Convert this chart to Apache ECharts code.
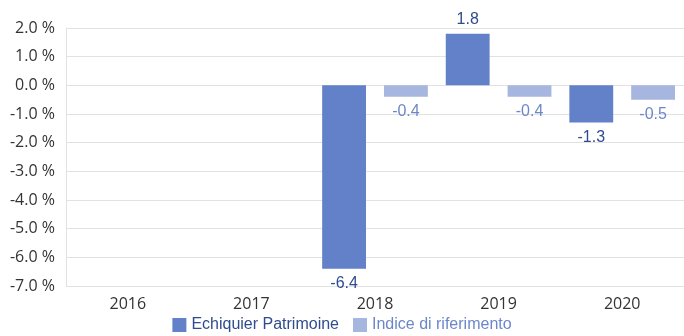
<!DOCTYPE html>
<html>
<head>
<meta charset="utf-8">
<script src="https://cdn.jsdelivr.net/npm/echarts@6/dist/echarts.min.js"></script>
<style>
  html, body { margin: 0; padding: 0; background: #fff; }
  #chart { width: 684px; height: 336px; }
</style>
</head>
<body>
<div id="chart"></div>
<script>
// Annual performance, fund vs benchmark (%)
const years = ['2016', '2017', '2018', '2019', '2020'];
const fundValues = [null, null, -6.4, 1.8, -1.3];
const benchmarkValues = [null, null, -0.4, -0.4, -0.5];
const seriesNames = ['Echiquier Patrimoine', 'Indice di riferimento'];

const fundColor = '#6281C9';
const benchColor = '#A7B6DF';

function withLabels(values) {
  return values.map(v => v === null ? null : {
    value: v,
    label: v < 0 ? { position: 'bottom', distance: 7 } : { position: 'top', distance: 6 }
  });
}

const chart = echarts.init(document.getElementById('chart'));
chart.setOption({
  animation: false,
  grid: { left: 66, right: 0, top: 28, bottom: 50 },
  legend: {
    top: 314,
    left: 'center',
    padding: [3, 5, 0, 5],
    itemWidth: 14,
    itemHeight: 14,
    itemGap: 14,
    icon: 'rect',
    textStyle: { fontFamily: 'Liberation Sans, Arial', fontSize: 16 },
    data: [
      { name: seriesNames[0], textStyle: { color: '#2F4C8E' } },
      { name: seriesNames[1], textStyle: { color: '#6C87C9' } }
    ]
  },
  xAxis: {
    type: 'category',
    data: years,
    axisLine: { show: false },
    axisTick: { show: false },
    axisLabel: { color: '#333', fontFamily: 'Open Sans', fontSize: 16, margin: 10 }
  },
  yAxis: {
    type: 'value',
    min: -7,
    max: 2,
    interval: 1,
    axisLine: { show: true, lineStyle: { color: '#e2e2e2', width: 1 } },
    axisTick: { show: false },
    splitLine: { lineStyle: { color: '#e2e2e2', width: 1 } },
    axisLabel: {
      color: '#333', fontFamily: 'Open Sans', fontSize: 16, margin: 11,
      formatter: v => v.toFixed(1) + ' %'
    }
  },
  series: [
    {
      name: seriesNames[0],
      type: 'bar',
      data: withLabels(fundValues),
      itemStyle: { color: fundColor },
      barGap: '41%',
      barCategoryGap: '14.5%',
      label: {
        show: true, color: '#2F4C8E',
        fontFamily: 'Liberation Sans, Arial', fontSize: 16,
        formatter: p => p.value.toFixed(1)
      }
    },
    {
      name: seriesNames[1],
      type: 'bar',
      data: withLabels(benchmarkValues),
      itemStyle: { color: benchColor },
      label: {
        show: true, color: '#6C87C9',
        fontFamily: 'Liberation Sans, Arial', fontSize: 16,
        formatter: p => p.value.toFixed(1)
      }
    }
  ]
});
</script>
</body>
</html>
